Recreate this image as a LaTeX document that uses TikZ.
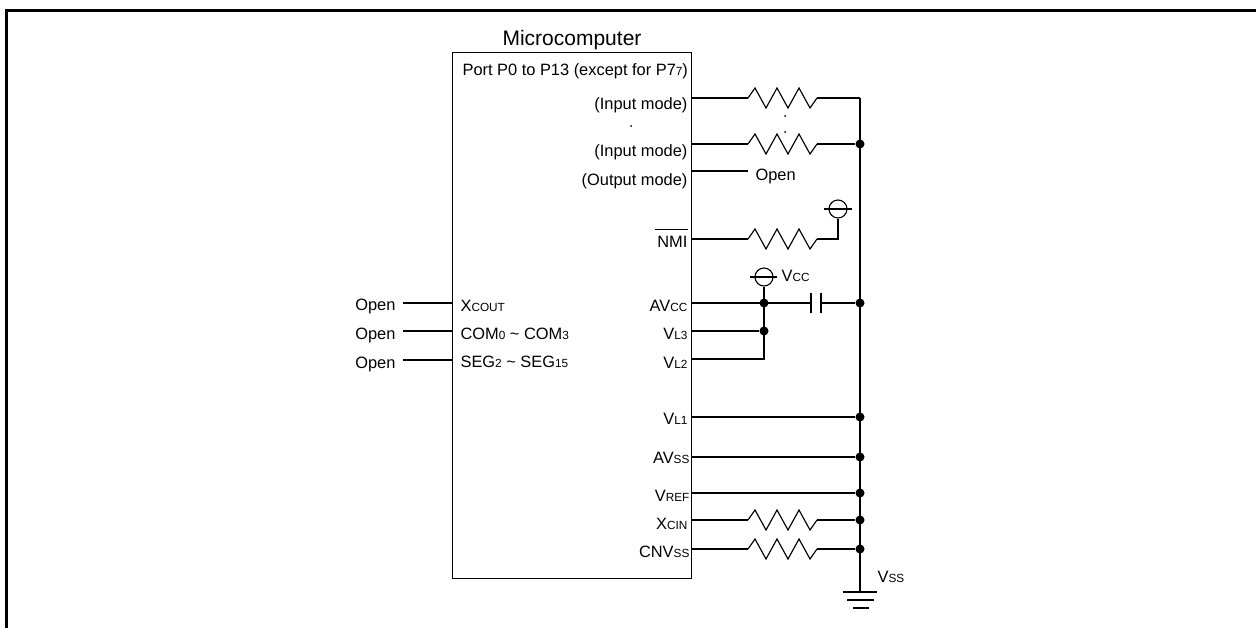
\documentclass[tikz,border=0pt]{standalone}
\usepackage{fontspec}
\setmainfont{Liberation Sans}
\newcommand\sml[1]{{\fontsize{11.8}{12}\selectfont #1}}
\begin{document}
\begin{tikzpicture}[x=1pt,y=-1pt,line width=1.15pt,
  lbl/.style={inner sep=0pt,font=\fontsize{16.4}{19}\selectfont},
  title/.style={inner sep=0pt,font=\fontsize{21}{24}\selectfont},
  junc/.style={circle,fill,inner sep=0pt,minimum size=9pt},
  tiny/.style={circle,fill,inner sep=0pt,minimum size=2pt},
  res/.pic={\draw[line join=miter] (0,0) -- (7,-10) -- (18,10) -- (29,-10) -- (40,10) -- (51,-10) -- (62,10) -- (69,0);
            \coordinate (-a) at (0,0); \coordinate (-b) at (69,0);}]
\useasboundingbox (0,0) rectangle (1256,628);
% outer frame
\draw[line width=2.6pt] (6.2,628) -- (6.2,10.7) -- (1256,10.7);
% microcomputer box
\node (mc) [draw,inner sep=0pt,minimum width=239pt,minimum height=526pt,anchor=north west] at (452,52) {};
\node (ttl) [title,anchor=base] at (572,45.5) {Microcomputer};
\node (port) [lbl,anchor=base west] at (462,76) {Port P0 to P13 (except for P7\sml{7})};
% right labels
\node (lin1) [lbl,anchor=base east] at (688,110) {(Input mode)};
\node (ldot) [tiny] at (631,126) {};
\node (lin2) [lbl,anchor=base east] at (688,157) {(Input mode)};
\node (lout) [lbl,anchor=base east] at (688,186) {(Output mode)};
\node (nmi) [lbl,anchor=base east] at (688,248) {NMI};
\draw[line width=0.9pt] ([yshift=19pt,xshift=-2pt]nmi.base west) -- ([yshift=19pt]nmi.base east);
\node (lavcc) [lbl,anchor=base east] at (688,312) {AV\sml{CC}};
\node (lvl3) [lbl,anchor=base east] at (688,340) {V\sml{L3}};
\node (lvl2) [lbl,anchor=base east] at (688,368) {V\sml{L2}};
\node (lvl1) [lbl,anchor=base east] at (688,424) {V\sml{L1}};
\node (lavss) [lbl,anchor=base east] at (690,463) {AV\sml{SS}};
\node (lvref) [lbl,anchor=base east] at (690,501) {V\sml{REF}};
\node (lxcin) [lbl,anchor=base east] at (688,529) {X\sml{CIN}};
\node (lcnv) [lbl,anchor=base east] at (690,557) {CNV\sml{SS}};
% left labels
\node (lxc) [lbl,anchor=base west] at (460,312) {X\sml{COUT}};
\node (lcom) [lbl,anchor=base west] at (460,340) {COM\sml{0} \textasciitilde{} COM\sml{3}};
\node (lseg) [lbl,anchor=base west] at (460,367) {SEG\sml{2} \textasciitilde{} SEG\sml{15}};
\node (o1) [lbl,anchor=base east] at (396,311) {Open};
\node (o2) [lbl,anchor=base east] at (396,340) {Open};
\node (o3) [lbl,anchor=base east] at (396,368) {Open};
\coordinate (q1) at (452,303); \coordinate (q2) at (452,331); \coordinate (q3) at (452,360);
\draw (o1.east |- q1) ++(7,0) -- (q1);
\draw (o2.east |- q2) ++(7,0) -- (q2);
\draw (o3.east |- q3) ++(7,0) -- (q3);
% pins on right side
\coordinate (p1) at (691,98);
\coordinate (p2) at (691,144);
\coordinate (p3) at (691,171);
\coordinate (p4) at (691,239);
\coordinate (p5) at (691,303);
\coordinate (p6) at (691,331);
\coordinate (p7) at (691,359);
\coordinate (p8) at (691,417);
\coordinate (p9) at (691,457);
\coordinate (p10) at (691,493);
\coordinate (p11) at (691,520);
\coordinate (p12) at (691,549);
% bus
\coordinate (btop) at (860,98);
\coordinate (gnd) at (860,592);
\node (j2) [junc] at (860,144) {};
\node (j5) [junc] at (860,303) {};
\node (j8) [junc] at (860,417) {};
\node (j9) [junc] at (860,457) {};
\node (j10) [junc] at (860,493) {};
\node (j11) [junc] at (860,520) {};
\node (j12) [junc] at (860,549) {};
\draw (btop) -- (gnd);
% ground
\draw (843,592) -- (877,592);
\draw (847,600) -- (874,600);
\draw (853,608) -- (869,608);
\node (vss) [lbl,anchor=base west] at (877,582) {V\sml{SS}};
% input resistors
\pic (r1) at (748,98) {res};
\draw (p1) -- (r1-a); \draw (r1-b) -- (btop);
\node (d1) [tiny] at (785,116) {};
\node (d2) [tiny] at (785,132) {};
\pic (r2) at (748,144) {res};
\draw (p2) -- (r2-a); \draw (r2-b) -- (j2);
% output open
\coordinate (oe) at (748,171);
\draw (p3) -- (oe);
\node (oo) [lbl,anchor=base west] at (755,181) {Open};
% NMI
\pic (r4) at (748,239) {res};
\coordinate (nc) at (838,239);
\node (vn) [circle,draw,inner sep=0pt,minimum size=18pt] at (838,209) {};
\draw (p4) -- (r4-a); \draw (r4-b) -- (nc) -- (vn.south);
\draw (824,209) -- (852,209);
% Vcc
\node (vc) [circle,draw,inner sep=0pt,minimum size=18pt] at (764,277) {};
\draw (750,277) -- (777,277);
\node (vcl) [lbl,anchor=base west] at (781,282) {V\sml{CC}};
\node (j5a) [junc] at (764,303) {};
\node (j6a) [junc] at (764,331) {};
\coordinate (c7) at (764,359);
\draw (vc.south) -- (c7) -- (p7);
\draw (p6) -- (j6a);
% AVcc line with capacitor
\coordinate (cpa) at (811,303); \coordinate (cpb) at (821,303);
\draw (p5) -- (cpa); \draw (cpb) -- (j5);
\draw (811,293) -- (811,313);
\draw (821,293) -- (821,313);
% direct lines
\draw (p8) -- (j8);
\draw (p9) -- (j9);
\draw (p10) -- (j10);
\pic (r11) at (748,520) {res};
\draw (p11) -- (r11-a); \draw (r11-b) -- (j11);
\pic (r12) at (748,549) {res};
\draw (p12) -- (r12-a); \draw (r12-b) -- (j12);
\end{tikzpicture}
\end{document}
